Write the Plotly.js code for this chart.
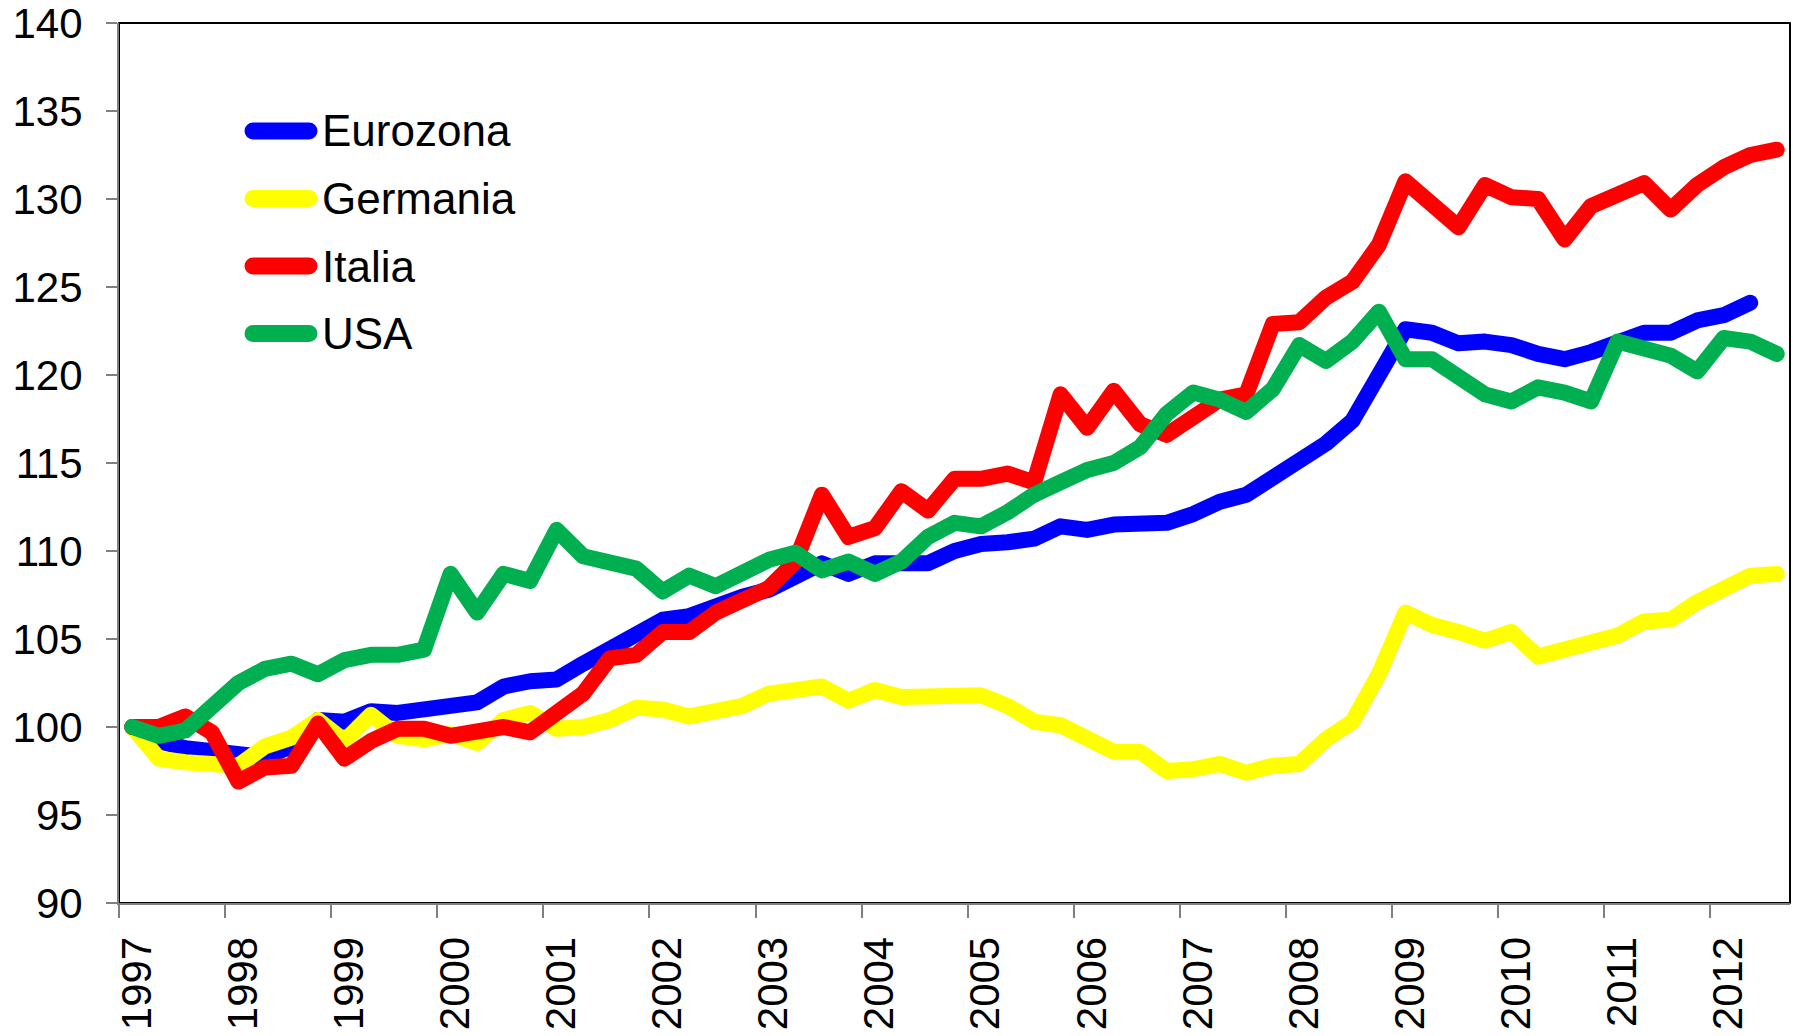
<!DOCTYPE html>
<html>
<head>
<meta charset="utf-8">
<script src="https://cdn.plot.ly/plotly-3.0.1.min.js"></script>
<style>
  html, body { margin: 0; padding: 0; background: #fff; }
  #chart { width: 1793px; height: 1036px; }
  /* Excel-like round joins and caps on the thick lines */
  .scatterlayer .js-line,
  .shapelayer path { stroke-linejoin: round !important; stroke-linecap: round !important; }
</style>
</head>
<body>
<div id="chart"></div>
<script>
// ── Data: quarterly index, 1997 Q1 = 100 ─────────────────────
const years = ['1997', '1998', '1999', '2000', '2001', '2002', '2003', '2004',
               '2005', '2006', '2007', '2008', '2009', '2010', '2011', '2012'];
const yTicks = [90, 95, 100, 105, 110, 115, 120, 125, 130, 135, 140];

const seriesNames  = ['Eurozona', 'Germania', 'Italia', 'USA'];
const seriesColors = ['#0000ff', '#ffff00', '#ff0000', '#00b050'];

const eurozona = [100, 99.2, 98.8, 98.6, 98.4, 98.3, 98.9, 100.4, 100.3, 100.9,
                  100.8, 100.9, 101.2, 101.4, 102.3, 102.6, 102.7, 103.6, 104.4, 105.3,
                  106.1, 106.3, 106.9, 107.4, 107.8, 108.5, 109.3, 108.7, 109.3, 109.3,
                  109.3, 110.0, 110.4, 110.5, 110.7, 111.4, 111.2, 111.5, 111.6, 111.6,
                  112.1, 112.8, 113.2, 114.1, 115.0, 116.1, 117.4, 119.9, 122.6, 122.4,
                  121.8, 121.9, 121.7, 121.2, 120.9, 121.3, 121.9, 122.4, 122.4, 123.1,
                  123.4, 124.1];

const germania = [100, 98.2, 98.0, 98.0, 97.8, 98.9, 99.4, 100.4, 99.2, 100.7,
                  99.5, 99.3, 99.6, 99.1, 100.4, 100.8, 99.9, 100.0, 100.4, 101.1,
                  101.0, 100.6, 100.8, 101.2, 101.9, 102.0, 102.3, 101.5, 102.1, 101.7,
                  101.7, 101.9, 101.8, 101.2, 100.3, 100.1, 99.3, 98.6, 98.6, 97.5,
                  97.6, 97.9, 97.4, 97.8, 97.9, 99.3, 100.3, 103.0, 106.5, 105.8,
                  105.4, 104.9, 105.4, 104.0, 104.4, 104.8, 105.2, 106.0, 106.1, 107.1,
                  107.8, 108.6, 108.7];

const italia = [100, 100, 100.6, 99.7, 96.9, 97.7, 97.8, 100.2, 98.2, 99.2,
                99.9, 99.9, 99.5, 99.7, 100.0, 99.7, 100.8, 101.9, 103.9, 104.1,
                105.4, 105.4, 106.5, 107.2, 107.9, 109.4, 113.2, 110.8, 111.3, 113.4,
                112.3, 114.1, 114.1, 114.4, 113.9, 118.9, 117.0, 119.1, 117.2, 116.6,
                117.6, 118.6, 118.9, 122.9, 123.0, 124.4, 125.3, 127.4, 131.0, 129.7,
                128.4, 130.8, 130.1, 130.0, 127.7, 129.6, 130.3, 130.9, 129.4, 130.8,
                131.8, 132.5, 132.8];

const usa = [100, 99.5, 99.8, 101.1, 102.5, 103.3, 103.6, 103.0, 103.8, 104.1,
             104.1, 104.4, 108.7, 106.5, 108.7, 108.3, 111.2, 109.7, 109.4, 109.0,
             107.7, 108.6, 108.0, 108.7, 109.5, 109.9, 108.9, 109.4, 108.7, 109.4,
             110.8, 111.6, 111.4, 112.2, 113.2, 113.9, 114.6, 115.0, 115.9, 117.8,
             119.0, 118.6, 117.9, 119.2, 121.7, 120.8, 121.9, 123.6, 120.9, 120.9,
             119.8, 118.9, 118.5, 119.3, 119.0, 118.5, 121.9, 121.5, 121.1, 120.2,
             122.1, 121.9, 121.2];

const allSeries = [eurozona, germania, italia, usa];

// ── Geometry of the page (pixels) ────────────────────────────
const W = 1793, H = 1036;
const M = { l: 119, r: 3, t: 23, b: 133 };
const PW = W - M.l - M.r, PH = H - M.t - M.b;
const nQuarters = 63;               // 1997 Q1 .. 2012 Q3
const FONT = 'Liberation Sans, Arial, sans-serif';

// pixel -> paper helpers for the hand-made legend
const px = x => (x - M.l) / PW;
const py = y => (H - M.b - y) / PH;

const traces = allSeries.map((vals, k) => ({
  x: vals.map((_, i) => i),
  y: vals,
  type: 'scatter', mode: 'lines',
  name: seriesNames[k],
  line: { color: seriesColors[k], width: 16 },
  showlegend: false,
  hoverinfo: 'skip',
}));

// year ticks sit on the boundary before each Q1
const tickvals = years.map((_, j) => j * 4 - 0.5);

// ── Legend drawn as shapes + annotations ────────────────────
const legendY0 = 131, legendStep = 67.5;
const shapes = [{
  type: 'rect', xref: 'paper', yref: 'paper', x0: 0, x1: 1, y0: 0, y1: 1,
  line: { color: '#000', width: 2 }, layer: 'below',
}];
const annotations = [];
seriesNames.forEach((name, k) => {
  const yy = py(legendY0 + k * legendStep);
  shapes.push({
    type: 'line', xref: 'paper', yref: 'paper',
    x0: px(253), x1: px(309), y0: yy, y1: yy,
    line: { color: seriesColors[k], width: 17 },
  });
  annotations.push({
    xref: 'paper', yref: 'paper', x: px(320), y: yy,
    xanchor: 'left', yanchor: 'middle', showarrow: false,
    text: name, font: { family: FONT, size: 44, color: '#000' },
  });
});

const layout = {
  width: W, height: H,
  margin: M,
  paper_bgcolor: '#fff', plot_bgcolor: '#fff',
  font: { family: FONT, color: '#000', size: 42 },
  showlegend: false,
  xaxis: {
    range: [-0.5, nQuarters - 0.5],
    tickmode: 'array', tickvals: tickvals, ticktext: years,
    tickangle: -90,
    ticks: 'outside', ticklen: 13, tickwidth: 2, tickcolor: '#808080',
    ticklabelshift: 18, ticklabelstandoff: 2,
    ticklabeloverflow: 'allow',
    showline: true, linecolor: '#808080', linewidth: 2,
    showgrid: false, zeroline: false,
    tickfont: { family: FONT, size: 42, color: '#000' },
  },
  yaxis: {
    range: [90, 140],
    tickmode: 'array', tickvals: yTicks, ticktext: yTicks.map(String),
    ticks: 'outside', ticklen: 11, tickwidth: 2, tickcolor: '#808080',
    ticklabelstandoff: 15,
    ticklabeloverflow: 'allow',
    showline: true, linecolor: '#808080', linewidth: 2,
    showgrid: false, zeroline: false,
    tickfont: { family: FONT, size: 42, color: '#000' },
  },
  shapes: shapes,
  annotations: annotations,
};

Plotly.newPlot('chart', traces, layout, { staticPlot: true, displayModeBar: false });
</script>
</body>
</html>
